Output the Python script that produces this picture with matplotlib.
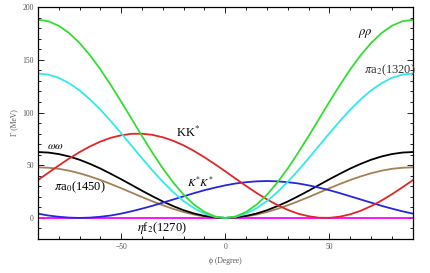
import matplotlib.pyplot as plt
import numpy as np

# decay widths (MeV), every 5 degrees from -90 to 90
phi = np.arange(-90, 91, 5)

rho_rho = [188, 186.6, 182.3, 175.4, 166, 154.4, 141, 126.1, 110.3, 94, 77.7, 61.9, 47, 33.6, 22, 12.6, 5.7, 1.4, 0,
           1.4, 5.7, 12.6, 22, 33.6, 47, 61.9, 77.7, 94, 110.3, 126.1, 141, 154.4, 166, 175.4, 182.3, 186.6, 188]
pi_a2 = [137, 136, 132.9, 127.8, 121, 112.5, 102.8, 91.9, 80.4, 68.5, 56.6, 45.1, 34.3, 24.5, 16, 9.2, 4.1, 1, 0,
         1, 4.1, 9.2, 16, 24.5, 34.3, 45.1, 56.6, 68.5, 80.4, 91.9, 102.8, 112.5, 121, 127.8, 132.9, 136, 137]
kk_star = [35.8, 42.8, 49.7, 56.3, 62.4, 67.8, 72.4, 76.0, 78.4, 79.8, 79.9, 78.8, 76.5, 73.2, 68.8, 63.5, 57.5, 51.0, 44.2,
           37.2, 30.3, 23.7, 17.6, 12.2, 7.6, 4.0, 1.6, 0.2, 0.1, 1.2, 3.5, 6.8, 11.2, 16.5, 22.5, 29.0, 35.8]
omega_omega = [62.5, 62, 60.6, 58.3, 55.2, 51.3, 46.9, 41.9, 36.7, 31.3, 25.8, 20.6, 15.6, 11.2, 7.3, 4.2, 1.9, 0.5, 0,
               0.5, 1.9, 4.2, 7.3, 11.2, 15.6, 20.6, 25.8, 31.3, 36.7, 41.9, 46.9, 51.3, 55.2, 58.3, 60.6, 62, 62.5]
pi_a0 = [48, 47.6, 46.6, 44.8, 42.4, 39.4, 36, 32.2, 28.2, 24, 19.8, 15.8, 12, 8.6, 5.6, 3.2, 1.4, 0.4, 0,
         0.4, 1.4, 3.2, 5.6, 8.6, 12, 15.8, 19.8, 24, 28.2, 32.2, 36, 39.4, 42.4, 44.8, 46.6, 47.6, 48]
ks_ks = [4.1, 2.3, 1.1, 0.3, 0, 0.3, 1.1, 2.3, 4.1, 6.3, 8.8, 11.5, 14.5, 17.5, 20.5, 23.5, 26.3, 28.7, 30.9,
         32.7, 33.9, 34.7, 35, 34.7, 33.9, 32.7, 30.9, 28.7, 26.3, 23.5, 20.5, 17.5, 14.5, 11.5, 8.8, 6.3, 4.1]
eta_f2 = [0.0] * len(phi)

plt.rcParams['font.family'] = ['Liberation Serif', 'DejaVu Serif']
plt.rcParams['mathtext.fontset'] = 'stix'

fig = plt.figure(figsize=(4.3, 2.73), dpi=100)
ax = fig.add_axes([0.088, 0.1245, 0.872, 0.8495])

lw = 1.3
ax.plot(phi, eta_f2, color='#ff00ff', lw=lw)
ax.plot(phi, pi_a0, color='#a57f55', lw=lw)
ax.plot(phi, omega_omega, color='black', lw=lw)
ax.plot(phi, ks_ks, color='#2626dd', lw=lw)
ax.plot(phi, kk_star, color='#e02626', lw=lw)
ax.plot(phi, pi_a2, color='#33e8e8', lw=lw)
ax.plot(phi, rho_rho, color='#33dd33', lw=lw)

ax.set_xlim(-90, 90)
ax.set_ylim(-20, 200)
ax.set_xticks([-50, 0, 50])
ax.set_xticks(np.arange(-90, 91, 10), minor=True)
ax.set_yticks([0, 50, 100, 150, 200])
ax.set_yticks(np.arange(-20, 201, 10), minor=True)
ax.tick_params(which='both', direction='in', top=True, right=True,
               labelsize=5.5, labelcolor='#555555', pad=3, width=0.6)
ax.tick_params(which='major', length=4)
ax.tick_params(which='minor', length=2)
for s in ax.spines.values():
    s.set_linewidth(0.9)

ax.set_ylabel('Γ (MeV)', fontsize=5.5, color='#555555', labelpad=3)
ax.set_xlabel('ϕ (Degree)', fontsize=5.5, color='#555555', labelpad=4)

fs = 9
ax.text(67, 175, r'$\rho\rho$', fontsize=fs, ha='center', va='center')
ax.text(66.5, 140.5, r'$\pi$a$_2$(1320)', fontsize=fs, ha='left', va='center', color='#333333')
ax.text(-18, 81, r'KK$^{*}$', fontsize=fs, ha='center', va='center')
ax.text(-81.5, 67.5, r'$\omega\omega$', fontsize=fs - 1, ha='center', va='center')
ax.text(-70, 29.5, r'$\pi$a$_0$(1450)', fontsize=fs, ha='center', va='center')
ax.text(-12, 33.5, r'$K^{*}K^{*}$', fontsize=fs - 1, ha='center', va='center')
ax.text(-30.5, -9.5, r'$\eta$f$_2$(1270)', fontsize=fs, ha='center', va='center')

fig.savefig('out.png', dpi=100)
